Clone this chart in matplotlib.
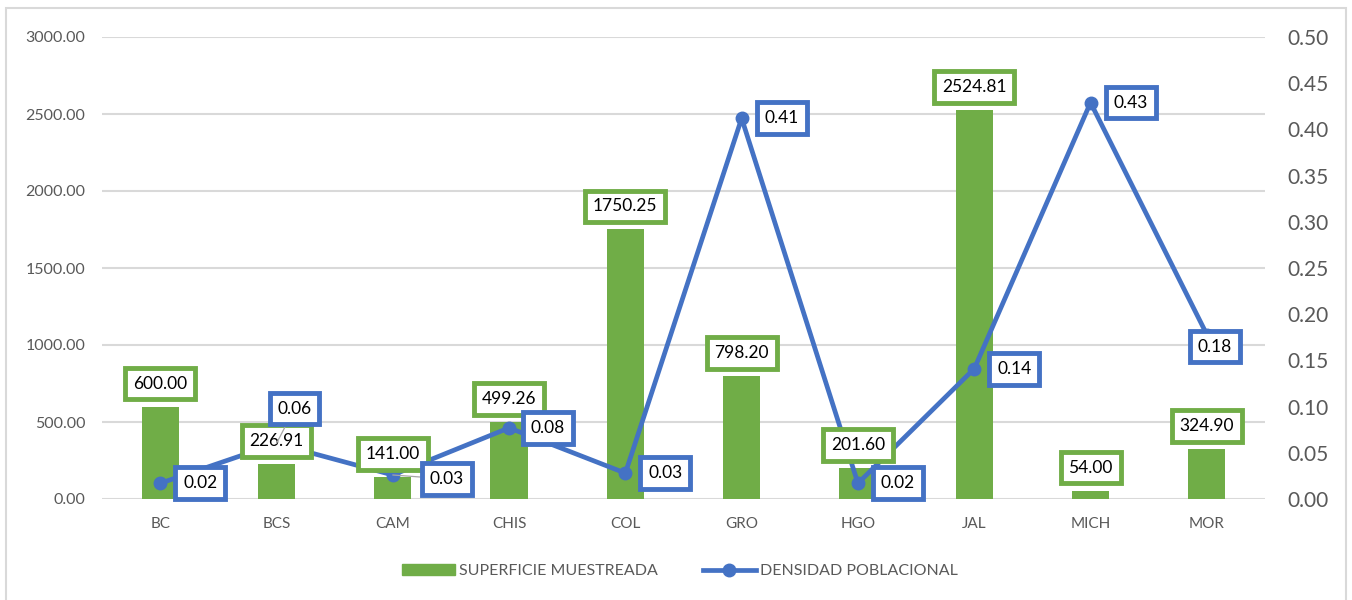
import numpy as np
import matplotlib.pyplot as plt
from matplotlib.patches import Rectangle
from matplotlib.lines import Line2D
from matplotlib.patches import Patch

plt.rcParams['font.family'] = ['Lato', 'DejaVu Sans']

estados = ["BC", "BCS", "CAM", "CHIS", "COL", "GRO", "HGO", "JAL", "MICH", "MOR"]
superficie = [600.00, 226.91, 141.00, 499.26, 1750.25, 798.20, 201.60, 2524.81, 54.00, 324.90]
densidad = [0.017, 0.06, 0.026, 0.077, 0.028, 0.412, 0.017, 0.141, 0.429, 0.178]

GREEN = "#70AD47"
BLUE = "#4472C4"
GRAY_TXT = "#595959"
GRID = "#D9D9D9"

# label offsets for the line labels, in pixels (dx, dy up)
blue_off = {1: (18, 35), 2: (54, -4), 3: (39, 0), 9: (8, -12)}
leader = {1, 2}

fig = plt.figure(figsize=(13.52, 6.0), dpi=100)
fig.patches.append(Rectangle((6 / 1352, -0.01), 1340 / 1352, 592 / 600 + 0.01,
                             transform=fig.transFigure, fill=False,
                             edgecolor=GRID, lw=1.5))

ax = fig.add_axes([102 / 1352, 1 - 499 / 600, 1163 / 1352, 462 / 600])
x = np.arange(len(estados))
ax.bar(x, superficie, width=0.32, color=GREEN, zorder=2)
ax.set_xlim(-0.5, len(estados) - 0.5)
ax.set_ylim(0, 3000)
ax.set_yticks(np.arange(0, 3001, 500))
ax.yaxis.set_major_formatter(lambda v, p: f"{v:.2f}")
ax.set_xticks(x)
ax.set_xticklabels(estados)
ax.yaxis.grid(True, color=GRID, lw=1.5)
ax.set_axisbelow(True)
for s in ax.spines.values():
    s.set_visible(False)
ax.tick_params(axis='y', length=0, pad=12, labelsize=11.5, labelcolor=GRAY_TXT)
ax.tick_params(axis='x', length=0, pad=13, labelsize=11, labelcolor=GRAY_TXT)

ax2 = ax.twinx()
ax2.set_ylim(0, 0.5)
ax2.set_yticks(np.arange(0, 0.501, 0.05))
ax2.yaxis.set_major_formatter(lambda v, p: f"{v:.2f}")
for s in ax2.spines.values():
    s.set_visible(False)
ax2.tick_params(axis='y', length=0, pad=16, labelsize=15, labelcolor=GRAY_TXT)
ax2.plot(x, densidad, color=BLUE, lw=3.4, marker='o', ms=9, zorder=3)

px = 0.72
for i, v in enumerate(superficie):
    ax2.annotate(f"{v:.2f}", xy=(i, v), xycoords=ax.transData,
                 xytext=(0, 23 * px), textcoords='offset points',
                 ha='center', va='center', fontsize=12.5, color='black', zorder=5,
                 bbox=dict(boxstyle='square,pad=0.45', fc='white', ec=GREEN, lw=3.5))

for i, v in enumerate(densidad):
    dx, dy = blue_off.get(i, (40, 0))
    arrow = None
    if i in leader:
        arrow = dict(arrowstyle='-', color='#A6A6A6', lw=0.9, shrinkA=0, shrinkB=0)
    ax2.annotate(f"{v:.2f}", xy=(i, v), xytext=(dx * px, dy * px),
                 textcoords='offset points', ha='center', va='center',
                 fontsize=12.5, color='black', zorder=6, arrowprops=arrow,
                 bbox=dict(boxstyle='square,pad=0.45', fc='white', ec=BLUE, lw=3.5))

handles = [Patch(color=GREEN, label="SUPERFICIE MUESTREADA"),
           Line2D([], [], color=BLUE, lw=3.4, marker='o', ms=9,
                  label="DENSIDAD POBLACIONAL")]
leg = fig.legend(handles=handles, loc='center', bbox_to_anchor=(0.503, 0.048),
                 ncol=2, frameon=False, fontsize=11.5, handlelength=3.3,
                 handletextpad=0.3, columnspacing=2.8)
for t in leg.get_texts():
    t.set_color(GRAY_TXT)

fig.savefig("out.png", dpi=100)
